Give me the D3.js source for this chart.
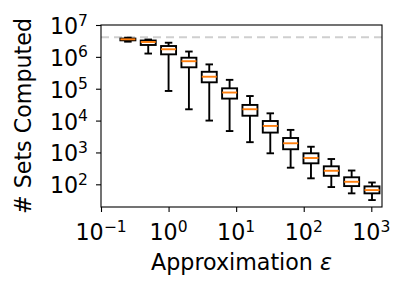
<!DOCTYPE html>
<html>
<head>
<meta charset="utf-8">
<script src="https://cdn.jsdelivr.net/npm/d3@7"></script>
<style>
  body { margin: 0; background: #fff; }
  svg { display: block; font-family: "DejaVu Sans", sans-serif; }
</style>
</head>
<body>
<svg id="chart" width="407" height="292"></svg>
<script>
// epsilon values (box positions)
var eps = [0.25, 0.5, 1, 2, 4, 8, 16, 32, 64, 128, 256, 512, 1024];
// box stats
var whiskLo = [3.0e6, 1.27e6, 8.5e4, 2.26e4, 1.0e4, 4.7e3, 2.1e3, 940, 332, 154, 82, 52, 32];
var q1      = [3.3e6, 2.36e6, 1.2e6, 4.7e5, 1.59e5, 4.9e4, 1.42e4, 4.2e3, 1.26e3, 456, 185, 88, 52];
var med     = [3.55e6, 2.93e6, 1.73e6, 7.3e5, 2.38e5, 7.6e4, 2.27e4, 6.8e3, 1.94e3, 669, 266, 120, 66];
var q3      = [3.75e6, 3.26e6, 2.19e6, 9.4e5, 3.4e5, 1.03e5, 3.1e4, 9.7e3, 2.84e3, 940, 367, 166, 86];
var whiskHi = [4.0e6, 3.5e6, 2.78e6, 1.47e6, 5.8e5, 1.9e5, 5.9e4, 1.69e4, 5.1e3, 1.51e3, 622, 271, 114];
var totalSets = 4.1e6;

var xTicks = [-1, 0, 1, 2, 3];
var yTicks = [2, 3, 4, 5, 6, 7];

var margin = {top: 25, right: 25, bottom: 85, left: 101};
var W = 407, H = 292;
var width = W - margin.left - margin.right,
    height = H - margin.top - margin.bottom;

var svg = d3.select("#chart");
var g = svg.append("g").attr("transform", "translate(" + margin.left + "," + margin.top + ")");

var x = d3.scaleLog().domain([0.1, 1440]).range([0, width]);
var y = d3.scaleLog().domain([19.4, 1e7]).range([height, 0]);

var fs = 22.2;
var boxW = 15, capW = 7.5, lw = 1.9;

// dashed line for total
g.append("line")
  .attr("x1", 0).attr("x2", width)
  .attr("y1", y(totalSets)).attr("y2", y(totalSets))
  .attr("stroke", "#cfcfcf").attr("stroke-width", 2)
  .attr("stroke-dasharray", "8,5");

var data = eps.map(function(e, i) {
  return {e: e, lo: whiskLo[i], q1: q1[i], med: med[i], q3: q3[i], hi: whiskHi[i]};
});

var boxes = g.selectAll(".box").data(data).join("g").attr("class", "box");

// whiskers
boxes.append("line")
  .attr("x1", d => x(d.e)).attr("x2", d => x(d.e))
  .attr("y1", d => y(d.hi)).attr("y2", d => y(d.q3))
  .attr("stroke", "black").attr("stroke-width", lw);
boxes.append("line")
  .attr("x1", d => x(d.e)).attr("x2", d => x(d.e))
  .attr("y1", d => y(d.q1)).attr("y2", d => y(d.lo))
  .attr("stroke", "black").attr("stroke-width", lw);
// caps
boxes.append("line")
  .attr("x1", d => x(d.e) - capW / 2).attr("x2", d => x(d.e) + capW / 2)
  .attr("y1", d => y(d.hi)).attr("y2", d => y(d.hi))
  .attr("stroke", "black").attr("stroke-width", lw);
boxes.append("line")
  .attr("x1", d => x(d.e) - capW / 2).attr("x2", d => x(d.e) + capW / 2)
  .attr("y1", d => y(d.lo)).attr("y2", d => y(d.lo))
  .attr("stroke", "black").attr("stroke-width", lw);
// box
boxes.append("rect")
  .attr("x", d => x(d.e) - boxW / 2)
  .attr("y", d => y(d.q3))
  .attr("width", boxW)
  .attr("height", d => y(d.q1) - y(d.q3))
  .attr("fill", "white").attr("stroke", "black").attr("stroke-width", lw);
// median
boxes.append("line")
  .attr("x1", d => x(d.e) - boxW / 2).attr("x2", d => x(d.e) + boxW / 2)
  .attr("y1", d => y(d.med)).attr("y2", d => y(d.med))
  .attr("stroke", "#ff7f0e").attr("stroke-width", 1.9);

// axes
var xAxis = g.append("g").attr("transform", "translate(0," + height + ")")
  .call(d3.axisBottom(x).tickValues(xTicks.map(p => Math.pow(10, p))).tickSize(5).tickFormat(""));
var yAxis = g.append("g")
  .call(d3.axisLeft(y).tickValues(yTicks.map(p => Math.pow(10, p))).tickSize(5).tickFormat(""));
[xAxis, yAxis].forEach(function(a) {
  a.select(".domain").remove();
  a.selectAll(".tick line").attr("stroke", "black").attr("stroke-width", 1.1);
});

// frame
g.append("rect").attr("width", width).attr("height", height)
  .attr("fill", "none").attr("stroke", "black").attr("stroke-width", 1.1);

// tick labels with superscripts
function powLabel(sel, p) {
  sel.append("tspan").text("10");
  sel.append("tspan").attr("dy", -8.5).attr("font-size", fs * 0.7).text(p < 0 ? "\u2212" + (-p) : p);
}
xTicks.forEach(function(p) {
  var t = g.append("text")
    .attr("x", x(Math.pow(10, p)))
    .attr("y", height + 33)
    .attr("text-anchor", "middle")
    .attr("font-size", fs);
  powLabel(t, p);
});
yTicks.forEach(function(p) {
  var t = g.append("text")
    .attr("x", -13)
    .attr("y", y(Math.pow(10, p)) + 9)
    .attr("text-anchor", "end")
    .attr("font-size", fs);
  powLabel(t, p);
});

// axis labels
var xl = g.append("text")
  .attr("x", width / 2).attr("y", height + 63)
  .attr("text-anchor", "middle").attr("font-size", fs);
xl.append("tspan").text("Approximation ");
xl.append("tspan").attr("font-style", "italic").text("\u03b5");

svg.append("text")
  .attr("transform", "translate(31," + (margin.top + height / 2) + ") rotate(-90)")
  .attr("text-anchor", "middle").attr("font-size", fs)
  .text("# Sets Computed");
</script>
</body>
</html>
